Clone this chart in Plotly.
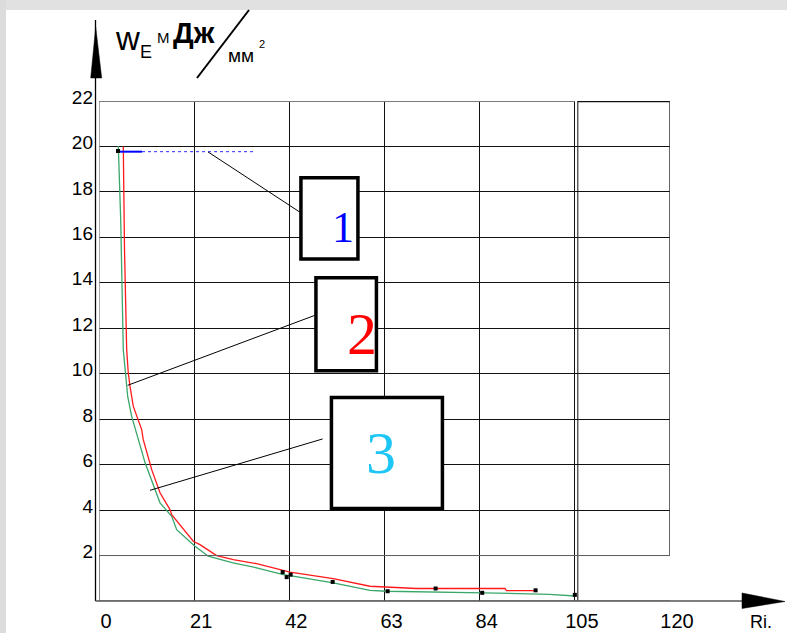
import plotly.graph_objects as go

# ---- data -------------------------------------------------------------
# curve 2 (red) : specific energy vs Ri
red_x = [5.36, 5.63, 6.11, 6.46, 6.84, 7.57, 9.42, 9.77, 11.63, 13.46, 15.66, 16.04,
         20.80, 22.28, 25.97, 29.63, 34.79, 40.66, 42.14, 51.69, 59.78, 70.09,
         89.57, 89.94, 96.18]
red_y = [20.0, 15.45, 11.05, 10.03, 9.44, 8.56, 7.54, 7.10, 5.78, 4.76, 4.02, 3.80,
         2.63, 2.48, 2.00, 1.82, 1.64, 1.35, 1.27, 0.98, 0.65, 0.55,
         0.55, 0.46, 0.46]

# curve 3 (green)
green_x = [4.26, 4.79, 5.36, 6.11, 6.33, 7.21, 10.15, 13.46, 16.04, 17.14, 21.18,
           24.11, 29.56, 34.79, 40.66, 42.14, 51.69, 59.78, 63.47, 84.78, 99.49, 105.0]
green_y = [20.02, 16.77, 11.05, 9.59, 9.00, 8.12, 6.09, 4.32, 3.73, 3.14, 2.41,
           1.97, 1.68, 1.46, 1.16, 1.12, 0.80, 0.47, 0.43, 0.36, 0.29, 0.22]

# curve 1 (blue) : constant level
blue_level = 19.77
blue_solid_x = [4.2, 9.5]
blue_dot_x = [9.5, 34.0]

# calculated nodes
node_x = [4.19, 40.53, 41.41, 42.29, 51.56, 63.69, 74.28, 84.56, 96.34, 105.0]
node_y = [19.80, 1.27, 1.05, 1.16, 0.84, 0.43, 0.55, 0.36, 0.47, 0.27]

# axes
x_ticks = [0, 21, 42, 63, 84, 105, 126]
x_labels = ["0", "21", "42", "63", "84", "105", "120"]
y_ticks = [2, 4, 6, 8, 10, 12, 14, 16, 18, 20, 22]

# ---- geometry of the frame (pixels) ----------------------------------
W, H = 787, 633
PL, PR, PT, PB = 99, 670, 101, 601


def pp(x, y):
    """pixel position -> paper coordinates"""
    return (x - PL) / (PR - PL), (PB - y) / (PB - PT)


fig = go.Figure()

fig.add_trace(go.Scatter(x=green_x, y=green_y, mode="lines",
                         line=dict(color="#3aa66a", width=1.3), name="3"))
fig.add_trace(go.Scatter(x=red_x, y=red_y, mode="lines",
                         line=dict(color="#ff1a1a", width=1.3), name="2"))
fig.add_trace(go.Scatter(x=blue_dot_x, y=[blue_level] * len(blue_dot_x), mode="lines",
                         line=dict(color="#2a2aff", width=1, dash="dot"), name="1"))
fig.add_trace(go.Scatter(x=blue_solid_x, y=[blue_level] * len(blue_solid_x), mode="lines",
                         line=dict(color="#0000ff", width=2), name="1"))
fig.add_trace(go.Scatter(x=node_x, y=node_y, mode="markers",
                         marker=dict(color="black", size=4, symbol="square"), name="узлы"))

shapes = []

# grey window bands
x0, y0 = pp(0, 10)
x1, y1 = pp(W, 0)
shapes.append(dict(type="rect", xref="paper", yref="paper", x0=x0, y0=y0, x1=x1, y1=y1,
                   fillcolor="#e1e1e1", line=dict(width=0), layer="below"))
x0, y0 = pp(0, H)
x1, y1 = pp(6, 0)
shapes.append(dict(type="rect", xref="paper", yref="paper", x0=x0, y0=y0, x1=x1, y1=y1,
                   fillcolor="#dcdcdc", line=dict(width=0), layer="below"))

# plot frame
shapes += [
    dict(type="line", xref="x", yref="y", x0=0, y0=0, x1=0, y1=22,
         line=dict(color="#8a8a8a", width=1.5)),
    dict(type="line", xref="x", yref="y", x0=0, y0=22, x1=105, y1=22,
         line=dict(color="#7a7a7a", width=2)),
    dict(type="line", xref="x", yref="y", x0=105.66, y0=22, x1=126, y1=22,
         line=dict(color="#111111", width=2.5)),
    dict(type="line", xref="x", yref="y", x0=126, y0=2, x1=126, y1=22,
         line=dict(color="#333333", width=1.5)),
    dict(type="line", xref="x", yref="y", x0=105.66, y0=0, x1=105.66, y1=22,
         line=dict(color="#111111", width=1)),
    dict(type="rect", xref="x", yref="y", x0=0, y0=0, x1=126.7, y1=2,
         line=dict(color="#666666", width=1)),
]

# axis lines with arrows
ax0, ay0 = pp(95.5, 20)
ax1, ay1 = pp(95.5, 601)
shapes.append(dict(type="line", xref="paper", yref="paper", x0=ax0, y0=ay0, x1=ax1, y1=ay1,
                   line=dict(color="black", width=1.3)))
bx0, by0 = pp(95.5, 601)
bx1, by1 = pp(745, 601)
shapes.append(dict(type="line", xref="paper", yref="paper", x0=bx0, y0=by0, x1=bx1, y1=by1,
                   line=dict(color="#555555", width=1.3)))


def tri(a, b, c):
    pts = [pp(*a), pp(*b), pp(*c)]
    return "M {} {} L {} {} L {} {} Z".format(pts[0][0], pts[0][1], pts[1][0], pts[1][1],
                                             pts[2][0], pts[2][1])


shapes.append(dict(type="path", xref="paper", yref="paper",
                   path=tri((95.7, 27), (90.7, 78), (101.7, 78)),
                   fillcolor="black", line=dict(color="black", width=0.5)))
shapes.append(dict(type="path", xref="paper", yref="paper",
                   path=tri((785, 601.5), (742, 593), (742, 608.5)),
                   fillcolor="black", line=dict(color="black", width=0.5)))

# unit slash in the axis title
sx0, sy0 = pp(197, 78)
sx1, sy1 = pp(249, 10)
shapes.append(dict(type="line", xref="paper", yref="paper", x0=sx0, y0=sy0, x1=sx1, y1=sy1,
                   line=dict(color="black", width=2)))

# callout boxes and leader lines (data units)
boxes = [
    (44.56, 15.05, 57.14, 18.62),
    (47.87, 10.13, 61.22, 14.22),
    (51.29, 4.07, 75.78, 8.95),
]
for bx_0, by_0, bx_1, by_1 in boxes:
    shapes.append(dict(type="rect", xref="x", yref="y", x0=bx_0, y0=by_0, x1=bx_1, y1=by_1,
                       fillcolor="white", line=dict(color="black", width=3.5)))
leaders = [
    (24.05, 19.76, 44.56, 17.08),
    (6.33, 9.49, 47.65, 12.57),
    (11.25, 4.87, 49.35, 7.13),
]
for lx0, ly0, lx1, ly1 in leaders:
    shapes.append(dict(type="line", xref="x", yref="y", x0=lx0, y0=ly0, x1=lx1, y1=ly1,
                       line=dict(color="black", width=1)))

annotations = []
serif = "Liberation Serif, Times New Roman, serif"
sans = "Liberation Sans, Arial, sans-serif"
for txt, x, y, size, color in [("1", 53.83, 16.42, 44, "#0000ff"),
                               ("2", 58.02, 11.76, 60, "#ff0000"),
                               ("3", 62.32, 6.53, 60, "#1ec6f6")]:
    annotations.append(dict(text=txt, x=x, y=y, xref="x", yref="y", showarrow=False,
                            font=dict(family=serif, size=size, color=color),
                            xanchor="center", yanchor="middle"))

# axis title pieces: text, centre pixel x, baseline pixel y, size, bold
title_parts = [("w", 127.5, 50, 33, False),
               ("E", 146, 58, 18, False),
               ("М", 163.5, 43, 15, False),
               ("Дж", 193.5, 43, 29, True),
               ("мм", 241, 62, 19, False),
               ("2", 261.5, 48, 11, False),
               ("Ri.", 761, 628, 18, False)]
for txt, cx, base, size, bold in title_parts:
    px_, py_ = pp(cx, base - 0.3465 * size)
    annotations.append(dict(text="<b>%s</b>" % txt if bold else txt, x=px_, y=py_,
                            xref="paper", yref="paper", showarrow=False,
                            font=dict(family=sans, size=size, color="black"),
                            xanchor="center", yanchor="middle"))

fig.update_layout(
    width=W, height=H,
    margin=dict(l=PL, r=W - PR, t=PT, b=H - PB, pad=0, autoexpand=False),
    paper_bgcolor="white", plot_bgcolor="white",
    showlegend=False,
    shapes=shapes,
    annotations=annotations,
    xaxis=dict(range=[0, 126], tickvals=x_ticks, ticktext=x_labels,
               showgrid=True, gridcolor="#111111", gridwidth=1,
               zeroline=False, showline=False, ticks="", automargin=False,
               ticklabelshift=7, ticklabelstandoff=6,
               tickfont=dict(family=sans, size=20, color="black")),
    yaxis=dict(range=[0, 22], tickvals=y_ticks,
               showgrid=True, gridcolor="#111111", gridwidth=1,
               zeroline=False, showline=False, ticks="", automargin=False,
               ticklabelshift=-4, ticklabelstandoff=5,
               tickfont=dict(family=sans, size=19, color="black")),
)

fig.write_html("out.html")
